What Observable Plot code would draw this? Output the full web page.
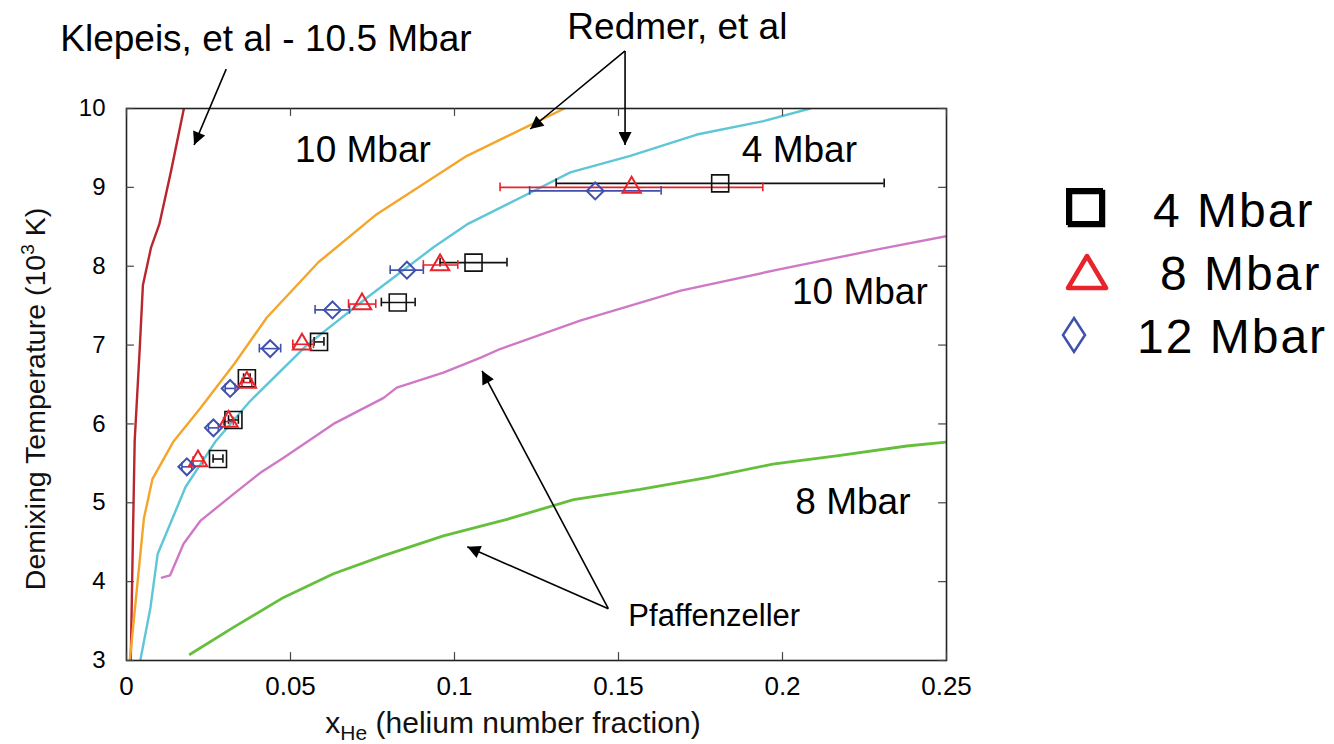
<!DOCTYPE html>
<html><head><meta charset="utf-8">
<script src="https://cdn.jsdelivr.net/npm/d3@7"></script>
<script src="https://cdn.jsdelivr.net/npm/@observablehq/plot@0.6"></script>
<style>
body{margin:0;background:#fff;}
#wrap{position:relative;width:1334px;height:744px;}
</style></head><body><div id="wrap"></div>
<script>
// ---- axis ticks ----
const xTicks = [0, 0.05, 0.1, 0.15, 0.2, 0.25];
const xTickLabels = ["0", "0.05", "0.1", "0.15", "0.2", "0.25"];
const yTicks = [3, 4, 5, 6, 7, 8, 9, 10];
const yTickLabels = ["3", "4", "5", "6", "7", "8", "9", "10"];

// ---- curves [xHe, T (10^3 K)] ----
const klepeis105 = [[0.0013,3.0],[0.0020,4.66],[0.0025,5.79],[0.0040,6.93],[0.0050,7.76],[0.0075,8.24],[0.0100,8.53],[0.0135,9.19],[0.0175,10.0]];
const redmer10 = [[0.001,3.0],[0.0053,4.80],[0.0079,5.30],[0.0142,5.77],[0.0225,6.20],[0.033,6.77],[0.0428,7.35],[0.0585,8.05],[0.0763,8.66],[0.1038,9.40],[0.1335,10.0]];
const redmer4 = [[0.0042,3.0],[0.0073,3.67],[0.0095,4.35],[0.0180,5.20],[0.0270,5.77],[0.0377,6.29],[0.055,7.0],[0.0733,7.60],[0.0936,8.24],[0.1038,8.53],[0.124,8.95],[0.1353,9.19],[0.1536,9.40],[0.1739,9.67],[0.1942,9.84],[0.2084,10.0]];
const pfaff10 = [[0.0108,4.05],[0.0133,4.08],[0.0174,4.48],[0.0225,4.77],[0.0326,5.11],[0.0408,5.38],[0.0479,5.57],[0.0631,6.0],[0.0784,6.33],[0.0824,6.46],[0.0966,6.65],[0.108,6.84],[0.1139,6.95],[0.1383,7.31],[0.169,7.69],[0.199,7.96],[0.2298,8.22],[0.25,8.38]];
const pfaff8 = [[0.0194,3.08],[0.0326,3.42],[0.0479,3.80],[0.0631,4.10],[0.0784,4.33],[0.0966,4.58],[0.116,4.79],[0.1363,5.04],[0.1566,5.17],[0.177,5.32],[0.197,5.49],[0.2176,5.60],[0.2379,5.72],[0.25,5.77]];

// ---- data points with horizontal error bars ----
const sq4X  = [0.0279, 0.0326, 0.0367, 0.0587, 0.0827, 0.1058, 0.181];
const sq4Y  = [5.555, 6.05, 6.58, 7.04, 7.54, 8.046, 9.05];
const sq4Lo = [0.0264, 0.0311, 0.0357, 0.0572, 0.0777, 0.0956, 0.131];
const sq4Hi = [0.0294, 0.0341, 0.0377, 0.0602, 0.0880, 0.1160, 0.231];

const tri8X  = [0.0218, 0.0311, 0.0367, 0.0535, 0.0718, 0.0956, 0.154];
const tri8Y  = [5.53, 6.03, 6.525, 7.01, 7.52, 8.016, 9.0];
const tri8Lo = [0.0203, 0.0296, 0.0352, 0.0507, 0.0677, 0.0905, 0.1139];
const tri8Hi = [0.0233, 0.0326, 0.0382, 0.0570, 0.0760, 0.1010, 0.194];

const dia12X  = [0.0184, 0.0265, 0.0316, 0.0438, 0.0628, 0.0855, 0.1429];
const dia12Y  = [5.456, 5.95, 6.45, 6.955, 7.446, 7.95, 8.955];
const dia12Lo = [0.0169, 0.0250, 0.0301, 0.0405, 0.0575, 0.0804, 0.1229];
const dia12Hi = [0.0199, 0.0280, 0.0331, 0.0470, 0.0680, 0.0905, 0.163];

// ---- annotations (data coordinates) ----
const labelTexts = ["Klepeis, et al - 10.5 Mbar", "Redmer, et al", "10 Mbar", "4 Mbar", "10 Mbar", "8 Mbar", "Pfaffenzeller"];
const labelX = [-0.0202, 0.1344, 0.0514, 0.1876, 0.2029, 0.2039, 0.153];
const labelY = [10.729, 10.881, 9.326, 9.326, 7.518, 4.864, 3.441];
const labelSize = [37, 37, 37, 37, 37, 37, 31];

const arrowX1 = [0.0304, 0.152, 0.152, 0.1469, 0.1469];
const arrowY1 = [10.5, 10.73, 10.73, 3.657, 3.657];
const arrowX2 = [0.0206, 0.1231, 0.152, 0.1084, 0.1039];
const arrowY2 = [9.537, 9.74, 9.537, 6.673, 4.442];

const legendLabels = ["4 Mbar", "8 Mbar", "12 Mbar"];

// ---- build tables ----
const mk = (X, Y, Lo, Hi) => X.map((x, i) => ({x, y: Y[i], lo: Lo[i], hi: Hi[i]}));
const sq4 = mk(sq4X, sq4Y, sq4Lo, sq4Hi);
const tri8 = mk(tri8X, tri8Y, tri8Lo, tri8Hi);
const dia12 = mk(dia12X, dia12Y, dia12Lo, dia12Hi);
const labels = labelTexts.map((t, i) => ({t, x: labelX[i], y: labelY[i], s: labelSize[i]}));
const arrows = arrowX1.map((x1, i) => ({x1, y1: arrowY1[i], x2: arrowX2[i], y2: arrowY2[i]}));

const C = {black: "#111", red: "#e8232b", blue: "#4050ad"};
const capH = 0.055;

function errMarks(data, color) {
  return [
    Plot.ruleY(data, {y: "y", x1: "lo", x2: "hi", stroke: color, strokeWidth: 1.6}),
    Plot.ruleX(data, {x: "lo", y1: d => d.y - capH, y2: d => d.y + capH, stroke: color, strokeWidth: 1.6}),
    Plot.ruleX(data, {x: "hi", y1: d => d.y - capH, y2: d => d.y + capH, stroke: color, strokeWidth: 1.6})
  ];
}
const line = (data, color, w = 2.4) => Plot.line(data, {x: d => d[0], y: d => d[1], stroke: color, strokeWidth: w, clip: true});

const chart = Plot.plot({
  width: 1334, height: 744,
  marginLeft: 126, marginRight: 388, marginTop: 108, marginBottom: 84,
  style: {fontFamily: "'Liberation Sans', Arial, sans-serif", background: "white", color: "black"},
  x: {domain: [0, 0.25]},
  y: {domain: [3, 10]},
  marks: [
    line(klepeis105, "#b8262e"),
    line(redmer10, "#f4a52a"),
    line(redmer4, "#5ec6d6"),
    line(pfaff10, "#cf79c6"),
    line(pfaff8, "#66bf3c", 2.8),
    ...errMarks(sq4, C.black),
    ...errMarks(tri8, C.red),
    ...errMarks(dia12, C.blue),
    Plot.dot(sq4, {x: "x", y: "y", symbol: "square", r: 9.6, stroke: C.black, strokeWidth: 1.6, fill: "none"}),
    Plot.dot(tri8, {x: "x", y: "y", symbol: "triangle", r: 6.8, stroke: C.red, strokeWidth: 2, fill: "none"}),
    Plot.dot(dia12, {x: "x", y: "y", symbol: "diamond2", r: 7.6, stroke: C.blue, strokeWidth: 2, fill: "none"}),
    Plot.frame({stroke: "#222", strokeWidth: 1.6}),
    Plot.ruleX(xTicks, {x: d => d, y1: 3, y2: 3.1, stroke: "#444", strokeWidth: 1.2}),
    Plot.ruleX(xTicks, {x: d => d, y1: 9.9, y2: 10, stroke: "#444", strokeWidth: 1.2}),
    Plot.ruleY(yTicks, {y: d => d, x1: 0, x2: 0.0024, stroke: "#444", strokeWidth: 1.2}),
    Plot.ruleY(yTicks, {y: d => d, x1: 0.2476, x2: 0.25, stroke: "#444", strokeWidth: 1.2}),
    Plot.axisX({ticks: xTicks, tickSize: 0, tickPadding: 16, fontSize: 26, label: null, tickFormat: (d, i) => xTickLabels[xTicks.indexOf(d)]}),
    Plot.axisY({ticks: yTicks, tickSize: 0, tickPadding: 21, fontSize: 24, label: null, tickFormat: d => yTickLabels[yTicks.indexOf(d)]}),
    Plot.link(arrows, {x1: "x1", y1: "y1", x2: "x2", y2: "y2", stroke: "black", strokeWidth: 1.6}),
    Plot.text(labels, {x: "x", y: "y", text: "t", fontSize: d => d.s, textAnchor: "start", lineAnchor: "bottom", fill: "black"})
  ]
});

const svg = d3.select(chart);
svg.selectAll('g[aria-label="text"] text').each(function(d, i) {
  d3.select(this).attr("font-size", labels[i].s);
});

// filled arrowheads
const defs = svg.append("defs");
defs.append("marker").attr("id", "ah").attr("viewBox", "0 0 10 10")
  .attr("refX", 10).attr("refY", 5).attr("markerWidth", 17).attr("markerHeight", 13)
  .attr("markerUnits", "userSpaceOnUse").attr("orient", "auto")
  .append("path").attr("d", "M0,0L10,5L0,10z").attr("fill", "black");
svg.selectAll('g[aria-label="link"] path').attr("marker-end", "url(#ah)");

// axis titles
const font = "'Liberation Sans', Arial, sans-serif";
const yl = svg.append("text").attr("transform", "translate(45,399) rotate(-90)")
  .attr("text-anchor", "middle").attr("font-size", 28.5).attr("font-family", font).attr("fill", "#111");
yl.append("tspan").text("Demixing Temperature (10");
yl.append("tspan").attr("font-size", 19).attr("dy", -11).text("3");
yl.append("tspan").attr("dy", 11).text(" K)");

const xl = svg.append("text").attr("x", 513).attr("y", 733)
  .attr("text-anchor", "middle").attr("font-size", 30).attr("font-family", font).attr("fill", "#111");
xl.append("tspan").text("x");
xl.append("tspan").attr("font-size", 21).attr("dy", 7).text("He");
xl.append("tspan").attr("dy", -7).text(" (helium number fraction)");

// legend
const lg = svg.append("g").attr("font-family", font).attr("text-anchor", "start");
lg.append("rect").attr("x", 1070).attr("y", 192).attr("width", 33).attr("height", 33).attr("fill", "none").attr("stroke", "#000").attr("stroke-width", 4.5);
lg.append("rect").attr("x", 1068).attr("y", 190).attr("width", 33).attr("height", 33).attr("fill", "none").attr("stroke", "#000").attr("stroke-width", 4);
lg.append("path").attr("d", "M1087,256L1106,288L1068,288Z").attr("fill", "none").attr("stroke", C.red).attr("stroke-width", 4.5).attr("stroke-linejoin", "round");
lg.append("path").attr("d", "M1074,318L1085,335L1074,352L1063,335Z").attr("fill", "none").attr("stroke", C.blue).attr("stroke-width", 2.5);
const lgX = [1153, 1160, 1137], lgY = [226.7, 290, 353.3];
legendLabels.forEach((t, i) => lg.append("text").attr("x", lgX[i]).attr("y", lgY[i]).attr("font-size", 48).attr("letter-spacing", 2).attr("text-anchor", "start").attr("fill", "#000").text(t));

document.getElementById("wrap").appendChild(chart);
</script></body></html>
